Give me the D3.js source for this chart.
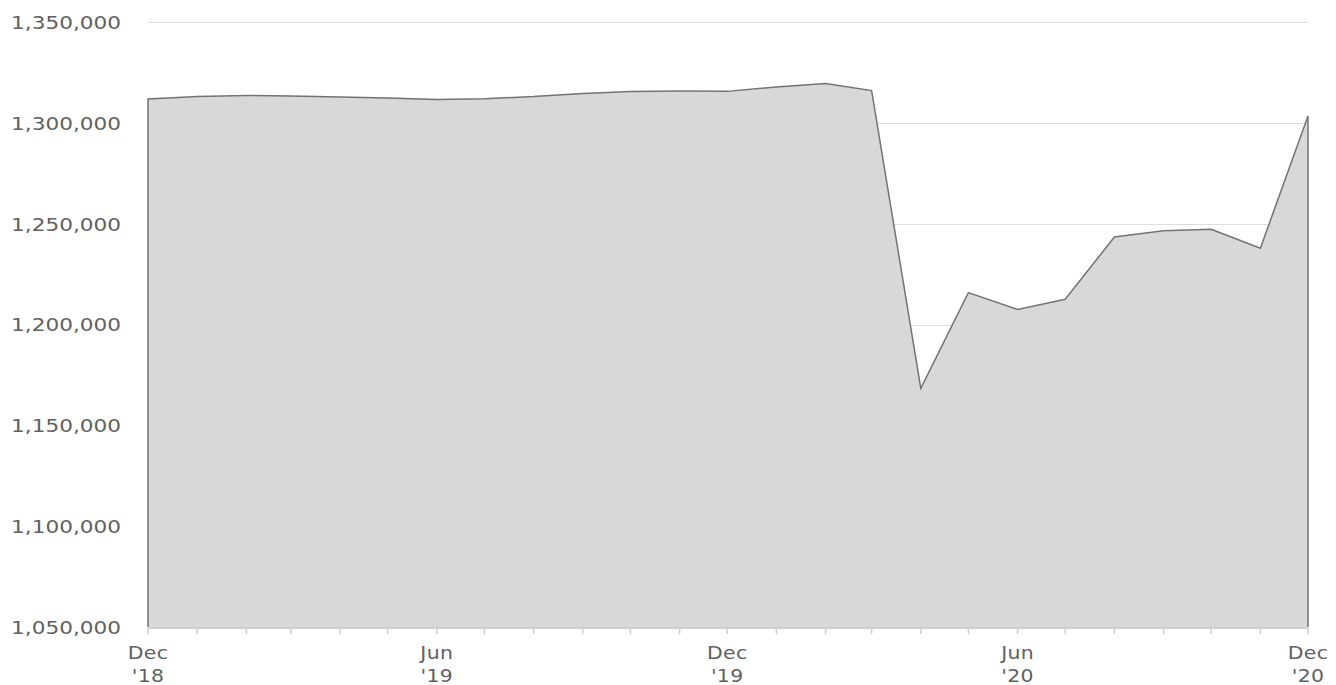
<!DOCTYPE html>
<html><head><meta charset="utf-8">
<script src="https://cdn.jsdelivr.net/npm/d3@7"></script>
<style>body{margin:0;background:#fff}svg{display:block}text{font-family:"DejaVu Sans",Verdana,sans-serif;fill:#606060}</style>
</head><body><svg id="c" width="1336" height="685"></svg>
<script>
const months = ["2018-12","2019-01","2019-02","2019-03","2019-04","2019-05","2019-06","2019-07","2019-08","2019-09","2019-10","2019-11","2019-12","2020-01","2020-02","2020-03","2020-04","2020-05","2020-06","2020-07","2020-08","2020-09","2020-10","2020-11","2020-12"];
const values = [1311800,1313100,1313600,1313300,1312800,1312300,1311600,1312000,1313000,1314600,1315500,1315800,1315600,1317800,1319500,1316000,1168400,1215800,1207500,1212500,1243400,1246500,1247200,1237800,1303400];
const yTicks = [1050000,1100000,1150000,1200000,1250000,1300000,1350000];
const xLabelMonths = ["2018-12","2019-06","2019-12","2020-06","2020-12"];

const parse = d3.timeParse("%Y-%m");
const data = months.map((m,i)=>({d:parse(m),v:values[i]}));
const svg = d3.select("#c");
const L=148,R=1308,T=22,B=627;
const x = d3.scaleTime().domain([data[0].d,data[data.length-1].d]).range([L,R]);
const y = d3.scaleLinear().domain([1050000,1350000]).range([B,T]);
const SX = 1.2;

// gridlines
svg.append("g").selectAll("line").data(yTicks.slice(1)).join("line")
  .attr("x1",L).attr("x2",R).attr("y1",d=>Math.round(y(d))+0.5).attr("y2",d=>Math.round(y(d))+0.5)
  .attr("stroke","#dedede").attr("stroke-width",1);

// area
const area = d3.area().x(d=>x(d.d)).y0(y(1050000)).y1(d=>y(d.v));
svg.append("path").datum(data).attr("d",area).attr("fill","#d8d8d8");
const line = d3.line().x(d=>x(d.d)).y(d=>y(d.v));
const outline = [{d:data[0].d,v:1050000},...data,{d:data[data.length-1].d,v:1050000}];
svg.append("path").datum(outline).attr("d",line).attr("fill","none").attr("stroke","#737373").attr("stroke-width",1.5);

// y labels
svg.append("g").selectAll("text").data(yTicks).join("text")
  .attr("transform",d=>`translate(121,${y(d)}) scale(${SX},1)`).attr("dy","0.38em").attr("text-anchor","end")
  .style("font-size","18px").style("letter-spacing","0px")
  .text(d=>d3.format(",")(d));

// x axis
const xa = svg.append("g").attr("transform",`translate(0,${B+1})`);
xa.append("line").attr("x1",L).attr("x2",R).attr("stroke","#cfcfcf").attr("stroke-width",2);
xa.selectAll(".t").data(data).join("line").attr("class","t")
  .attr("x1",d=>x(d.d)).attr("x2",d=>x(d.d)).attr("y1",0).attr("y2",6)
  .attr("stroke","#cfcfcf").attr("stroke-width",1.5);
const lab = xa.selectAll("g.l").data(xLabelMonths.map(parse)).join("g").attr("class","l")
  .attr("transform",d=>`translate(${x(d)},0) scale(${SX},1)`);
lab.append("text").attr("text-anchor","middle").attr("y",31).style("font-size","17px").style("letter-spacing","0.3px").text(d3.timeFormat("%b"));
lab.append("text").attr("text-anchor","middle").attr("y",54).style("font-size","17px").style("letter-spacing","0.3px").text(d=>"'"+d3.timeFormat("%y")(d));
</script></body></html>
